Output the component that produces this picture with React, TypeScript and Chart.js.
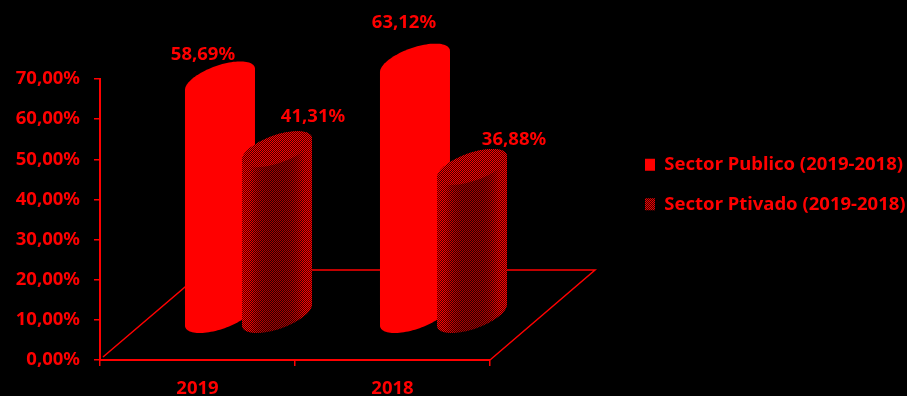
import { useEffect, useRef } from "react";
import { Chart, registerables, layouts } from "chart.js";

Chart.register(...registerables);

const categories = ["2019", "2018"];
const seriesNames = ["Sector Publico (2019-2018)", "Sector Ptivado (2019-2018)"];
const publicShare = [58.69, 63.12];
const privateShare = [41.31, 36.88];
const yTicksMax = 70;
const yTicksStep = 10;

const RED = "#ff0000";
const BLACK = "#000000";
const FONT_FAMILY = "'Noto Sans', sans-serif";
const FONT_SIZE = 18.5;

// Oblique projection of the floor and the column bases onto the screen.
const FLOOR_DX = 105;
const FLOOR_DY = -90;
const BASE_DX = 51;
const BASE_DY = -45;
const RADIUS_X = 35;
const RADIUS_Y = 18;
const ELLIPSE_TILT = -0.62;

// Hand placement of each value label, relative to its column top.
const labelShift = [
  [[-17, -7], [-11, -21]],
  [[36, -14], [42, -9]],
];

// Fine checker raster whose red level follows level(u, v); the two pixel
// phases sit either side of that level, which gives a stippled surface.
function stippleCanvas(
  w: number,
  h: number,
  originX: number,
  originY: number,
  level: (u: number, v: number) => number
) {
  const c = document.createElement("canvas");
  c.width = w;
  c.height = h;
  const g = c.getContext("2d")!;
  const img = g.createImageData(w, h);
  for (let y = 0; y < h; y++) {
    for (let x = 0; x < w; x++) {
      const lum = level(x / (w - 1), y / (h - 1));
      const phase = (x + originX + y + originY) % 2 === 0;
      const i = (y * w + x) * 4;
      img.data[i] = phase ? Math.min(255, lum * 1.6) : lum * 0.4;
      img.data[i + 1] = 0;
      img.data[i + 2] = 0;
      img.data[i + 3] = 255;
    }
  }
  g.putImageData(img, 0, 0);
  return c;
}

function ellipsePath(ctx: CanvasRenderingContext2D, cx: number, cy: number, from: number, to: number, first: boolean) {
  const steps = 48;
  for (let i = 0; i <= steps; i++) {
    const t = from + ((to - from) * i) / steps;
    const x = cx + RADIUS_X * Math.cos(t);
    const y = cy + RADIUS_Y * Math.sin(t + ELLIPSE_TILT);
    if (i === 0 && first) ctx.moveTo(x, y);
    else ctx.lineTo(x, y);
  }
}

// Side silhouette: top rim over its back half, then the bottom rim's front half.
function columnPath(ctx: CanvasRenderingContext2D, cx: number, top: number, bottom: number) {
  ctx.beginPath();
  ellipsePath(ctx, cx, top, Math.PI, 2 * Math.PI, true);
  ellipsePath(ctx, cx, bottom, 0, Math.PI, false);
  ctx.closePath();
}

function topPath(ctx: CanvasRenderingContext2D, cx: number, top: number) {
  ctx.beginPath();
  ellipsePath(ctx, cx, top, 0, 2 * Math.PI, true);
  ctx.closePath();
}

const paperPlugin = {
  id: "paper",
  beforeDraw(chart: Chart) {
    const { ctx, width, height } = chart;
    ctx.save();
    ctx.fillStyle = BLACK;
    ctx.fillRect(0, 0, width, height);
    ctx.restore();
  },
};

const legendPlugin = {
  id: "legendPlacement",
  beforeInit(chart: Chart) {
    // Empty box that keeps the plot clear of the legend column.
    const spacer: any = {
      position: "right",
      weight: 2000,
      fullSize: false,
      options: {},
      isHorizontal: () => false,
      update(_w: number, h: number) {
        spacer.width = 417 - (chart.legend ? chart.legend.width : 0);
        spacer.height = h;
      },
      draw() {},
    };
    layouts.addBox(chart, spacer);
  },
  afterLayout(chart: Chart) {
    const legend: any = chart.legend;
    legend.left = 645 - 21;
    legend.right = chart.width;
    legend.top -= 53;
    legend.bottom -= 53;
  },
};

const cylinderPlugin = {
  id: "cylinders",
  beforeDatasetsDraw(chart: Chart) {
    const { ctx, chartArea } = chart;
    const { left, right, bottom } = chartArea;
    ctx.save();
    ctx.strokeStyle = RED;
    ctx.lineWidth = 1.5;
    ctx.beginPath();
    ctx.moveTo(left + 3, bottom - 3);
    ctx.lineTo(left + FLOOR_DX, bottom + FLOOR_DY);
    ctx.lineTo(right + FLOOR_DX, bottom + FLOOR_DY);
    ctx.lineTo(right, bottom);
    ctx.stroke();
    ctx.restore();
  },
  afterDatasetsDraw(chart: Chart) {
    const { ctx } = chart;
    const yZero = chart.scales.y.getPixelForValue(0);
    chart.data.datasets.forEach((dataset: any, d: number) => {
      const meta = chart.getDatasetMeta(d);
      meta.data.forEach((bar: any, i: number) => {
        const cx = bar.x + BASE_DX;
        const top = bar.y + BASE_DY;
        const base = yZero + BASE_DY;
        ctx.save();
        if (d === 0) {
          ctx.fillStyle = RED;
          columnPath(ctx, cx, top, base);
          ctx.fill();
        } else {
          const w = RADIUS_X * 2 + 2;
          const h = Math.ceil(base - top + RADIUS_Y * 2 + 24);
          const x0 = Math.round(cx - RADIUS_X - 1);
          const y0 = Math.round(top - RADIUS_Y - 12);
          columnPath(ctx, cx, top, base);
          ctx.save();
          ctx.clip();
          ctx.drawImage(
            stippleCanvas(w, h, x0, y0, (u) => 105 + 125 * Math.pow(Math.abs(2 * u - 1), 3)),
            x0,
            y0
          );
          ctx.restore();
          topPath(ctx, cx, top);
          ctx.clip();
          ctx.drawImage(stippleCanvas(w, h, x0, y0, () => 165), x0, y0);
        }
        ctx.restore();

        ctx.save();
        ctx.fillStyle = RED;
        ctx.font = `bold ${FONT_SIZE}px ${FONT_FAMILY}`;
        ctx.textAlign = "center";
        ctx.textBaseline = "middle";
        const [sx, sy] = labelShift[d][i];
        const text = dataset.data[i].toFixed(2).replace(".", ",") + "%";
        ctx.fillText(text, cx + sx, top - RADIUS_Y + sy);
        ctx.restore();
      });
    });
  },
};

export default function App() {
  const ref = useRef<HTMLCanvasElement>(null);

  useEffect(() => {
    const swatch = stippleCanvas(4, 4, 0, 0, () => 150);
    const swatchPattern = ref.current!.getContext("2d")!.createPattern(swatch, "repeat")!;
    const font = { family: FONT_FAMILY, size: FONT_SIZE, weight: "bold" as const };

    const chart = new Chart(ref.current!, {
      type: "bar",
      data: {
        labels: categories,
        datasets: [
          {
            label: seriesNames[0],
            data: publicShare,
            backgroundColor: "transparent",
            categoryPercentage: 0.585,
            barPercentage: 1,
          },
          {
            label: seriesNames[1],
            data: privateShare,
            backgroundColor: "transparent",
            categoryPercentage: 0.585,
            barPercentage: 1,
          },
        ],
      },
      options: {
        animation: false,
        responsive: false,
        layout: { padding: { top: 79, right: 0, left: 0, bottom: 0 } },
        scales: {
          x: {
            afterFit(scale: any) {
              scale.height = 36;
            },
            grid: { color: RED, drawOnChartArea: false, tickLength: 6, lineWidth: 1.5 },
            border: { color: RED, width: 2 },
            ticks: { color: RED, font, padding: 12 },
          },
          y: {
            min: 0,
            max: yTicksMax,
            afterFit(scale: any) {
              scale.width = 100;
            },
            grid: { color: RED, drawOnChartArea: false, tickLength: 6, lineWidth: 1.5 },
            border: { color: RED, width: 2 },
            ticks: {
              color: RED,
              font,
              padding: 14,
              stepSize: yTicksStep,
              callback: (v: any) => Number(v).toFixed(2).replace(".", ",") + "%",
            },
          },
        },
        plugins: {
          tooltip: { enabled: false },
          legend: {
            position: "right",
            labels: {
              color: RED,
              font,
              boxWidth: 10,
              boxHeight: 12,
              padding: 21,
              generateLabels: () =>
                seriesNames.map((text, i) => ({
                  text,
                  fillStyle: i === 0 ? RED : swatchPattern,
                  strokeStyle: "transparent",
                  fontColor: RED,
                  lineWidth: 0,
                  datasetIndex: i,
                  hidden: false,
                })),
            },
          },
        },
      },
      plugins: [paperPlugin, legendPlugin, cylinderPlugin],
    } as any);

    return () => chart.destroy();
  }, []);

  return (
    <canvas
      ref={ref}
      width={907}
      height={396}
      style={{ position: "fixed", left: 0, top: 0, display: "block" }}
    />
  );
}
